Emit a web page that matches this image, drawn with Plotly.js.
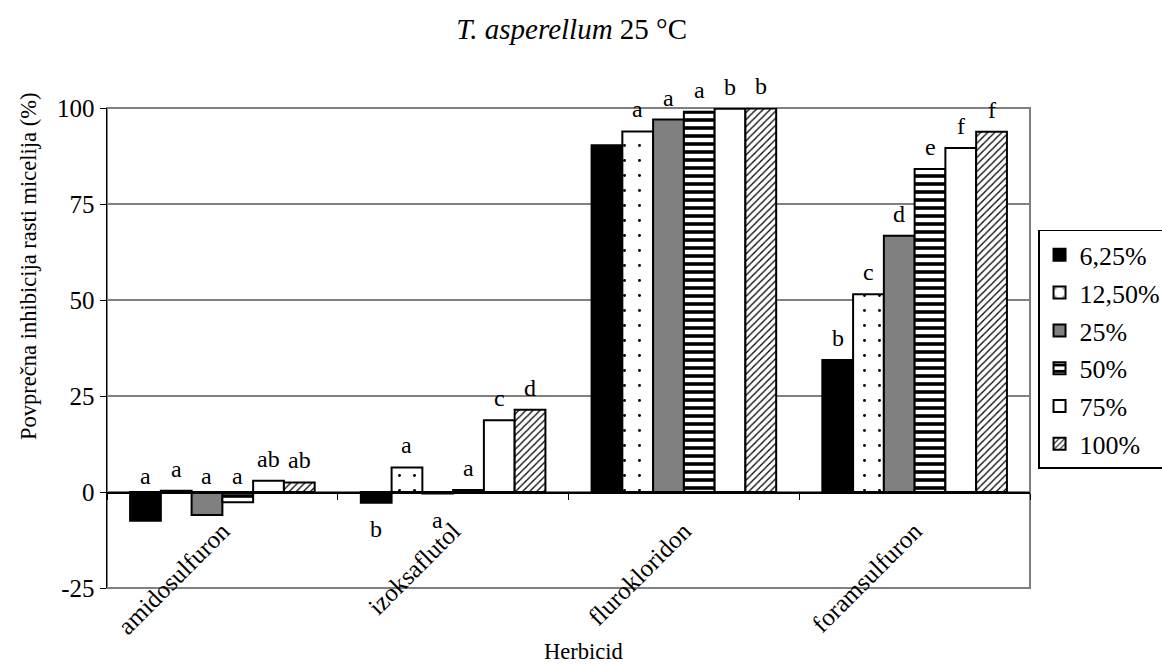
<!DOCTYPE html>
<html>
<head>
<meta charset="utf-8">
<script src="https://cdn.plot.ly/plotly-3.0.1.min.js"></script>
<style>html,body{margin:0;padding:0;background:#fff;}#chart{width:1162px;height:666px;}</style>
</head>
<body>
<div id="chart"></div>
<script>
const categories = ["amidosulfuron", "izoksaflutol", "flurokloridon", "foramsulfuron"];
const seriesNames = ["6,25%", "12,50%", "25%", "50%", "75%", "100%"];
const yTickVals = [-25, 0, 25, 50, 75, 100];
const yTickText = ["-25", "0", "25", "50", "75", "100"];

const s6_25 = [-7.5, -2.8, 90.3, 34.4];
const s12_50 = [0.3, 6.4, 93.9, 51.5];
const s25 = [-6.0, -0.4, 97.0, 66.7];
const s50 = [-2.7, 0.5, 99.0, 84.1];
const s75 = [2.9, 18.7, 99.8, 89.6];
const s100 = [2.5, 21.4, 99.9, 93.8];

const l6_25 = ["a", "b", "", "b"];
const l12_50 = ["a", "a", "a", "c"];
const l25 = ["a", "a", "a", "d"];
const l50 = ["a", "a", "a", "e"];
const l75 = ["ab", "c", "b", "f"];
const l100 = ["ab", "d", "b", "f"];

// which letters sit below the bar (others above)
const below6_25 = [false, true, false, false];
const below12_50 = [false, false, false, false];
const below25 = [false, true, false, false];
const below50 = [false, false, false, false];
const below75 = [false, false, false, false];
const below100 = [false, false, false, false];

const values = [s6_25, s12_50, s25, s50, s75, s100];
const letters = [l6_25, l12_50, l25, l50, l75, l100];
const belows = [below6_25, below12_50, below25, below50, below75, below100];

const FONT = "Liberation Serif, Times New Roman, serif";
const styles = [
  {color: "#000000"},
  {color: "#ffffff", pattern: {shape: ".", bgcolor: "#ffffff", fgcolor: "#000000", size: 15, solidity: 0.03}},
  {color: "#808080"},
  {color: "#ffffff", pattern: {shape: "-", bgcolor: "#ffffff", fgcolor: "#000000", size: 8, solidity: 0.45}},
  {color: "#ffffff"},
  {color: "#ffffff", pattern: {shape: "/", bgcolor: "#ffffff", fgcolor: "#000000", size: 5, solidity: 0.25}}
];

const bargap = 0.2;
const traces = values.map((v, i) => ({
  type: "bar",
  name: seriesNames[i],
  x: categories,
  y: v,
  legendgroup: "g" + i,
  marker: Object.assign({line: {color: "#000000", width: 2}}, styles[i]),
  hoverinfo: "skip"
}));

const annotations = [];
const nS = values.length;
values.forEach((v, i) => {
  v.forEach((val, c) => {
    const t = letters[i][c];
    if (!t) return;
    const xpos = c + (i - (nS - 1) / 2) * (1 - bargap) / nS;
    const below = belows[i][c];
    let y, ys;
    if (below) { y = val; ys = -26; }
    else if (val < 0) { y = 0; ys = 16; }
    else { y = val; ys = 22; }
    annotations.push({
      x: xpos, y: y, xref: "x", yref: "y", text: t, showarrow: false,
      yshift: ys, xanchor: "center", yanchor: "middle",
      font: {family: FONT, size: 24, color: "#000"}
    });
  });
});

annotations.push({
  text: "Povprečna inhibicija rasti micelija (%)", textangle: -90,
  xref: "paper", yref: "paper", x: -0.085, y: 0.67, xanchor: "center", yanchor: "middle",
  showarrow: false, font: {family: FONT, size: 22.5, color: "#000"}
});
annotations.push({
  text: "Herbicid", xref: "paper", yref: "paper", x: 0.516, y: -0.133,
  xanchor: "center", yanchor: "middle", showarrow: false,
  font: {family: FONT, size: 22.5, color: "#000"}
});

const layout = {
  width: 1162, height: 666,
  margin: {l: 107, r: 132, t: 108, b: 78, autoexpand: false},
  paper_bgcolor: "#ffffff", plot_bgcolor: "#ffffff",
  font: {family: FONT, size: 24, color: "#000"},
  title: {text: "<i>T. asperellum</i> 25 °C", x: 0.492, xanchor: "center", y: 0.957, yanchor: "middle",
          font: {family: FONT, size: 29, color: "#000"}},
  barmode: "group", bargap: bargap, bargroupgap: 0,
  xaxis: {
    type: "category", anchor: "free", position: 0.2,
    showline: true, linecolor: "#000", linewidth: 1.5,
    ticks: "outside", tickson: "boundaries", ticklen: 6, tickcolor: "#000", tickwidth: 1,
    tickangle: -45, ticklabelstandoff: 13,
    showgrid: false, zeroline: false,
    tickfont: {family: FONT, size: 25, color: "#000"}
  },
  yaxis: {
    range: [-25, 100], tickvals: yTickVals, ticktext: yTickText,
    showline: true, linecolor: "#000", linewidth: 1.5,
    ticks: "outside", ticklen: 6, tickcolor: "#000",
    showgrid: true, gridcolor: "#808080", gridwidth: 1.5, zeroline: false,
    tickfont: {family: FONT, size: 25, color: "#000"}
  },
  legend: {
    x: 1.0087, y: 0.746, xanchor: "left", yanchor: "top",
    bordercolor: "#000", borderwidth: 1.5, bgcolor: "#fff",
    font: {family: FONT, size: 26, color: "#000"},
    traceorder: "grouped", tracegroupgap: 1, itemwidth: 30
  },
  shapes: [{
    type: "rect", xref: "paper", yref: "paper", x0: 0, x1: 1, y0: 0, y1: 1,
    line: {color: "#808080", width: 2}, layer: "below"
  }],
  annotations: annotations
};

Plotly.newPlot("chart", traces, layout, {staticPlot: true});
</script>
</body>
</html>
